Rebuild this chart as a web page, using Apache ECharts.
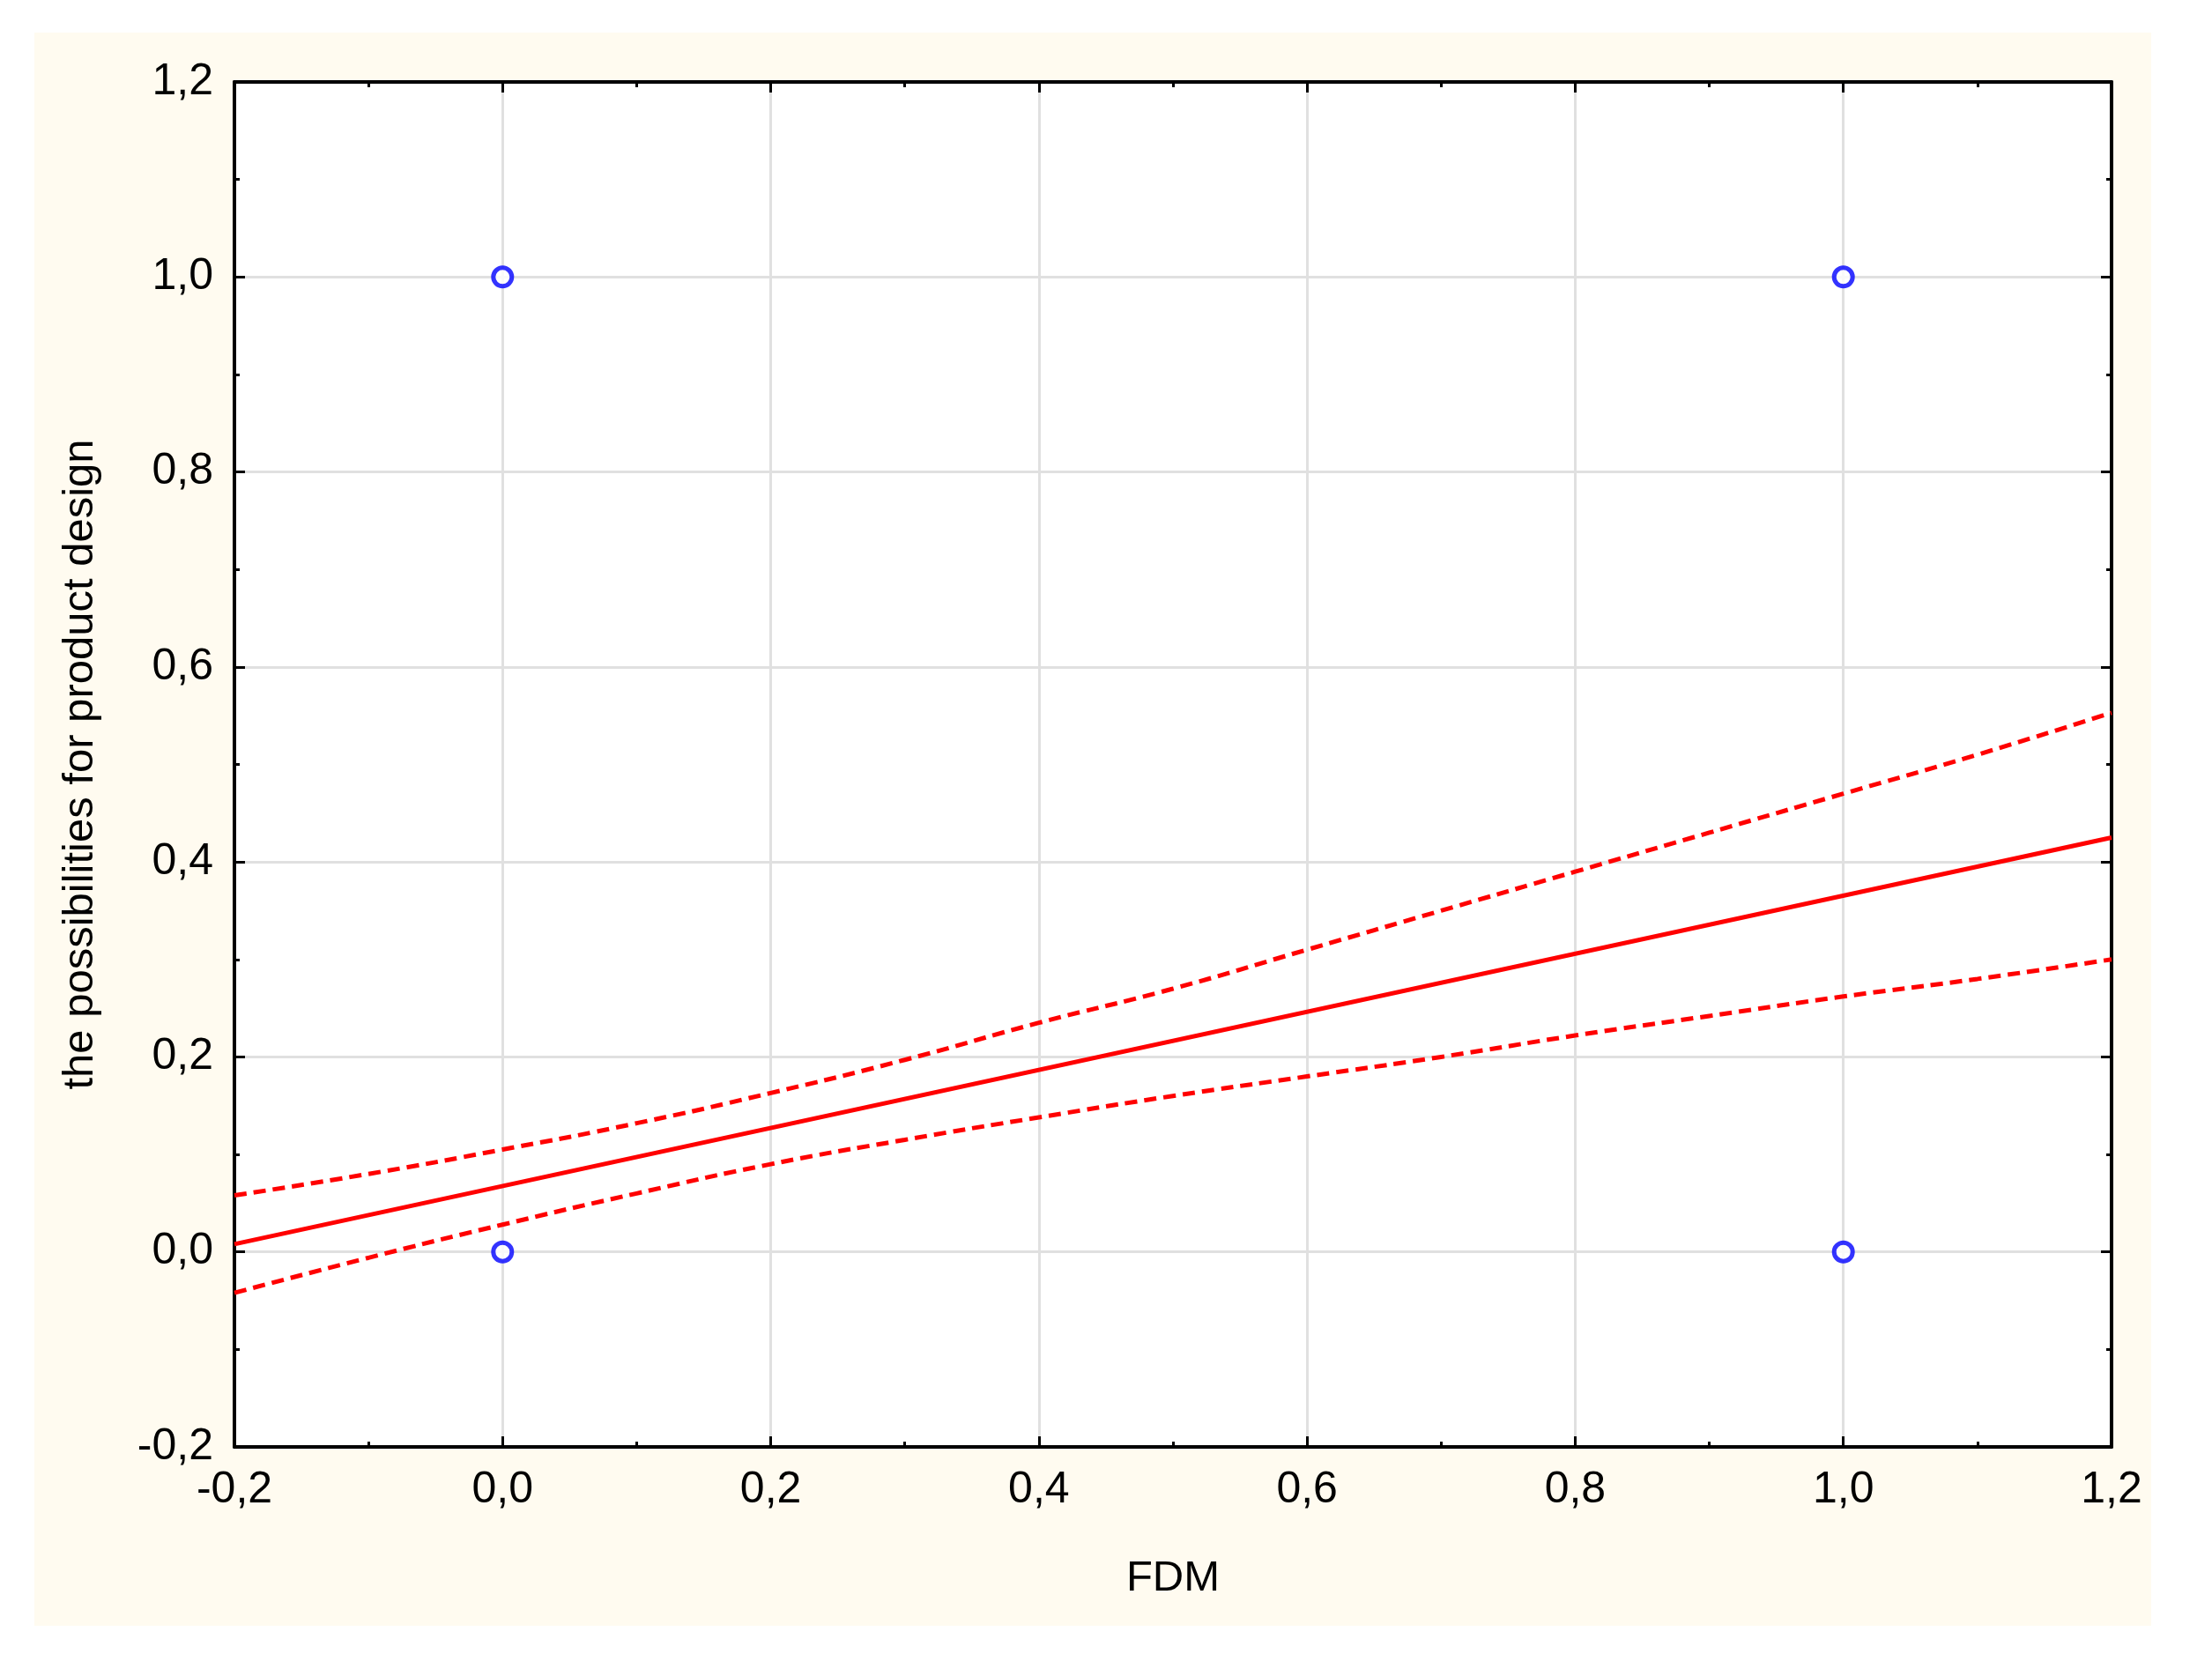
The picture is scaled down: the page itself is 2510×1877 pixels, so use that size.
<!DOCTYPE html>
<html>
<head>
<meta charset="utf-8">
<script src="https://cdn.jsdelivr.net/npm/echarts@6/dist/echarts.min.js"></script>
<style>
html,body{margin:0;padding:0;background:#fff;}
#wrap{position:absolute;left:39px;top:37px;width:2402px;height:1808px;background:#fffbf0;}
#chart{position:absolute;left:0;top:0;width:2510px;height:1877px;}
</style>
</head>
<body>
<div id="wrap"></div>
<div id="chart"></div>
<script>
// 观测点
var points = [[0, 1], [1, 1], [0, 0], [1, 0]];
// 回归线
var fitX = [-0.2, 1.2];
var fitY = [0.008, 0.425];
// 置信带
var bandX = [-0.2, -0.1, 0, 0.1, 0.2, 0.3, 0.4, 0.5, 0.6, 0.7, 0.8, 0.9, 1.0, 1.1, 1.2];
var upperY = [0.058, 0.08, 0.105, 0.132, 0.163, 0.197, 0.235, 0.27, 0.31, 0.35, 0.39, 0.43, 0.47, 0.51, 0.553];
var lowerY = [-0.042, -0.006, 0.028, 0.06, 0.09, 0.115, 0.138, 0.16, 0.18, 0.2, 0.222, 0.242, 0.262, 0.28, 0.30];

function zip(xs, ys){ return xs.map(function(x, i){ return [x, ys[i]]; }); }
function fmt(v){ return v.toFixed(1).replace('.', ','); }

var chart = echarts.init(document.getElementById('chart'));
var font = 'Liberation Sans, Arial, sans-serif';
var baseAxis = {
    type: 'value', min: -0.2, max: 1.2, interval: 0.2,
    axisLine: {show: true, onZero: false, lineStyle: {color: '#000', width: 4}},
    axisTick: {show: true, inside: true, length: 12, lineStyle: {color: '#000', width: 3}},
    minorTick: {show: true, splitNumber: 2, length: 6, lineStyle: {color: '#000', width: 3}}
};
function ax(extra){ return Object.assign({}, baseAxis, extra); }

chart.setOption({
    animation: false,
    grid: {left: 266, top: 93, width: 2130, height: 1549, show: true, backgroundColor: '#fff', borderWidth: 0},
    xAxis: [
        ax({position: 'bottom', name: 'FDM', nameLocation: 'middle', nameGap: 125,
            nameTextStyle: {fontFamily: font, fontSize: 49, color: '#000'},
            axisLabel: {formatter: fmt, fontFamily: font, fontSize: 50, color: '#000', margin: 24},
            splitLine: {show: true, lineStyle: {color: '#e0e0e0', width: 3}}}),
        ax({position: 'top', axisLabel: {show: false}, splitLine: {show: false}})
    ],
    yAxis: [
        ax({position: 'left', name: 'the possibilities for product design', nameLocation: 'middle', nameGap: 150,
            nameTextStyle: {fontFamily: font, fontSize: 49, color: '#000'},
            axisLabel: {formatter: fmt, fontFamily: font, fontSize: 50, color: '#000', margin: 24},
            splitLine: {show: true, lineStyle: {color: '#e0e0e0', width: 3}}}),
        ax({position: 'right', axisLabel: {show: false}, splitLine: {show: false}})
    ],
    series: [
        {type: 'line', data: zip(bandX, upperY), showSymbol: false, smooth: true,
            lineStyle: {color: '#ff0000', width: 5, type: [14, 8]}},
        {type: 'line', data: zip(bandX, lowerY), showSymbol: false, smooth: true,
            lineStyle: {color: '#ff0000', width: 5, type: [14, 8]}},
        {type: 'line', data: zip(fitX, fitY), showSymbol: false,
            lineStyle: {color: '#ff0000', width: 5}},
        {type: 'scatter', data: points, symbol: 'circle', symbolSize: 21,
            itemStyle: {color: '#fff', borderColor: '#0000ff', borderWidth: 5}}
    ]
});
</script>
</body>
</html>
